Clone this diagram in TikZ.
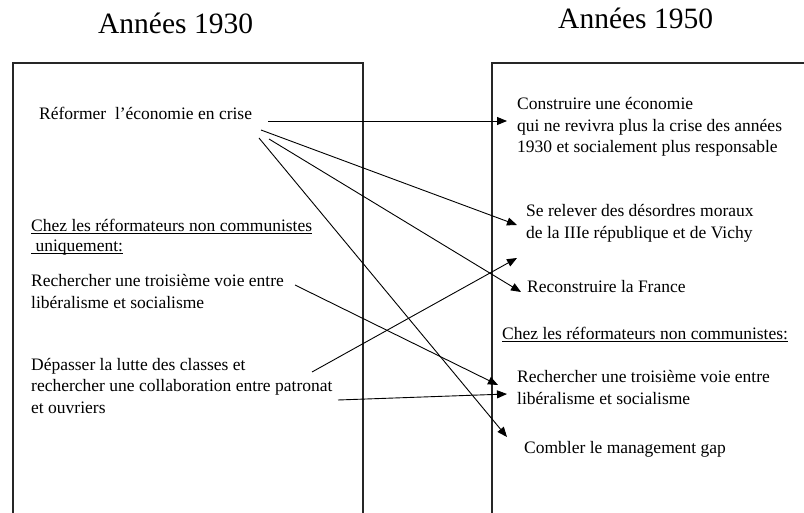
\documentclass[tikz,border=0pt]{standalone}
\usepackage{fontspec}
\setmainfont{Liberation Serif}
\usetikzlibrary{arrows.meta}
\newcommand{\myul}[1]{\underline{\smash{#1}}\vphantom{#1}}
\tikzset{
  body/.style={anchor=base west, inner sep=0pt, align=left, font=\fontsize{17.5}{21.5}\selectfont},
  heading/.style={anchor=base west, inner sep=0pt, font=\fontsize{29.5}{34}\selectfont},
  frame/.style={line width=1.1pt, draw=black!85},
  link/.style={line width=0.9pt, -{Triangle[length=10pt,width=8pt]}}
}
\begin{document}
\begin{tikzpicture}[x=1pt,y=-1pt]
\useasboundingbox (0,0) rectangle (804,513);
% frames
\draw[frame] (13,513) -- (13,63) -- (363,63) -- (363,513);
\draw[frame] (492,513) -- (492,63) -- (804,63);
% headings
\node[heading] (h1) at (98,34) {Années 1930};
\node[heading] (h2) at (558,29) {Années 1950};
% left texts (anchor = baseline of the last line)
\node[body] (ref) at (39,120) {Réformer\ \ l’économie en crise};
\node[body] (chezL) at (31,252) {\myul{Chez les réformateurs non communistes}\\[-1.5pt]\myul{\ uniquement:}};
\node[body] (troisL) at (31,308.5) {Rechercher une troisième voie entre\\libéralisme et socialisme};
\node[body] (dep) at (31,413) {Dépasser la lutte des classes et\\rechercher une collaboration entre patronat\\et ouvriers};
% right texts
\node[body] (cons) at (517,153) {Construire une économie\\qui ne revivra plus la crise des années\\1930 et socialement plus responsable};
\node[body] (relev) at (526,238.5) {Se relever des désordres moraux\\de la IIIe république et de Vichy};
\node[body] (recons) at (527,293) {Reconstruire la France};
\node[body] (chezR) at (502,340) {\myul{Chez les réformateurs non communistes:}};
\node[body] (troisR) at (517,404) {Rechercher une troisième voie entre\\libéralisme et socialisme};
\node[body] (comb) at (524,453) {Combler le management gap};
% connector end points
\coordinate (r1) at (268,121);
\coordinate (r2) at (261,130);
\coordinate (r3) at (269,139);
\coordinate (r4) at (259,138);
\coordinate (l1) at (295,285);
\coordinate (d1) at (312,372);
\coordinate (d2) at (338,400);
\coordinate (t1) at (507,121);
\coordinate (t2) at (517,225);
\coordinate (t3) at (521,292);
\coordinate (t4) at (507,437);
\coordinate (t5) at (498,385);
\coordinate (t6) at (517,258);
\coordinate (t7) at (507,394);
% connectors
\draw[link] (r1) -- (t1);
\draw[link] (r2) -- (t2);
\draw[link] (r3) -- (t3);
\draw[link] (r4) -- (t4);
\draw[link] (l1) -- (t5);
\draw[link] (d1) -- (t6);
\draw[link] (d2) -- (t7);
\end{tikzpicture}
\end{document}
